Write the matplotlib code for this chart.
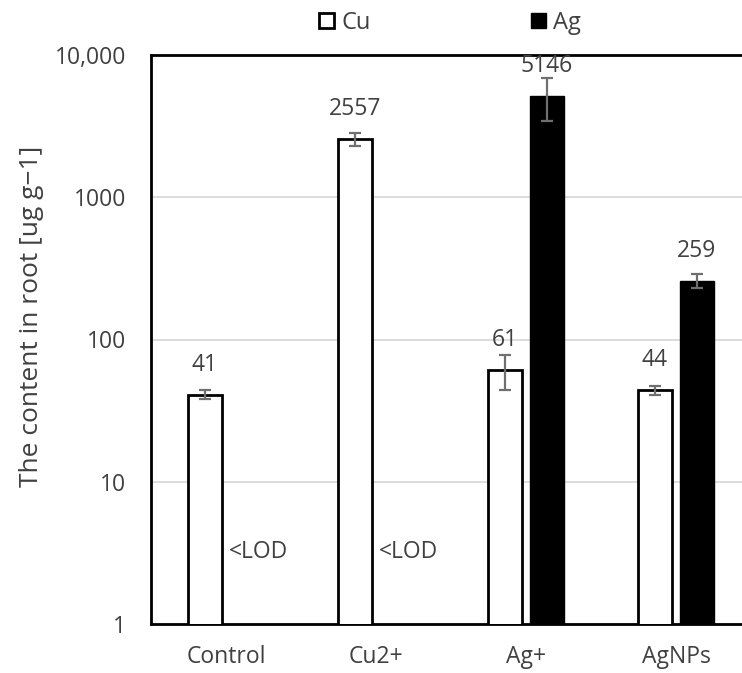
import matplotlib
matplotlib.use("Agg")
import matplotlib.pyplot as plt
import numpy as np
from matplotlib.patches import Patch

plt.rcParams['font.family'] = ['Open Sans', 'DejaVu Sans']

categories = ["Control", "Cu2+", "Ag+", "AgNPs"]
cu_values = [41, 2557, 61, 44]
cu_errors = [3, 280, 17, 3]
ag_values = [np.nan, np.nan, 5146, 259]
ag_errors = [0, 0, 1700, 28]
ag_labels = ["<LOD", "<LOD", "5146", "259"]
y_ticks = [1, 10, 100, 1000, 10000]
y_tick_labels = ["1", "10", "100", "1000", "10,000"]

W, H = 742, 673
fig = plt.figure(figsize=(W / 100, H / 100), dpi=100)
# axes extends past the right edge of the canvas
left, right, top, bottom = 151, 751, 55, 624
ax = fig.add_axes([left / W, 1 - bottom / H, (right - left) / W, (bottom - top) / H])

x = np.arange(len(categories))
bw = 0.233
off = 0.14
text_col = "#404040"
err_col = "#6f6f6f"
label_off = 21.5  # points above the bar top (text centre)
fs = 16.5

ax.set_yscale("log")
ax.set_ylim(1, 10000)
ax.set_xlim(-0.5, 3.5)

ax.bar(x - off, cu_values, width=bw, color="white", edgecolor="black", linewidth=2.0, zorder=3)
ax.errorbar(x - off, cu_values, yerr=cu_errors, fmt="none", ecolor=err_col, elinewidth=1.6,
            capsize=4.5, capthick=1.6, zorder=4)
ag_plot = [v if not np.isnan(v) else 0 for v in ag_values]
ax.bar(x + off, ag_plot, width=bw, color="black", edgecolor="black", linewidth=1.0, zorder=3)
ax.errorbar(x[2:] + off, ag_values[2:], yerr=ag_errors[2:], fmt="none", ecolor=err_col,
            elinewidth=1.6, capsize=4.5, capthick=1.6, zorder=4)

# value labels
for i, v in enumerate(cu_values):
    ax.annotate(str(v), (x[i] - off, v), xytext=(0, label_off), textcoords="offset points",
                ha="center", va="center", fontsize=fs, color=text_col, zorder=5)
for i, lab in enumerate(ag_labels):
    if lab == "<LOD":
        ax.text(x[i] + 0.02, 3.2, lab, ha="left", va="center", fontsize=fs, color=text_col, zorder=5)
    else:
        ax.annotate(lab, (x[i] + off, ag_values[i]), xytext=(0, label_off), textcoords="offset points",
                    ha="center", va="center", fontsize=fs, color=text_col, zorder=5)

ax.set_yticks(y_ticks)
ax.set_yticklabels(y_tick_labels)
ax.yaxis.set_minor_locator(matplotlib.ticker.NullLocator())
ax.set_xticks(x)
ax.set_xticklabels(categories)
ax.tick_params(axis="both", length=0, labelsize=fs, labelcolor=text_col)
ax.tick_params(axis="y", pad=18)
ax.tick_params(axis="x", pad=15)

ax.grid(axis="y", color="#d9d9d9", linewidth=1.3, zorder=0)
for s in ["left", "bottom", "top"]:
    ax.spines[s].set_color("black")
    ax.spines[s].set_linewidth(2.0)
ax.spines["right"].set_visible(False)

ax.set_ylabel("The content in root [ug g\u22121]", fontsize=19, color=text_col)
ax.yaxis.set_label_coords(-0.178, 0.54)

handles = [Patch(facecolor="white", edgecolor="black", linewidth=2.0, label="Cu"),
           Patch(facecolor="black", edgecolor="black", label="Ag")]
fig.legend(handles=handles, loc="center", bbox_to_anchor=(450 / W, 1 - 23 / H), ncol=2,
           frameon=False, fontsize=17, handlelength=0.62, handleheight=0.62,
           handletextpad=0.3, columnspacing=6.8, labelcolor=text_col)

fig.savefig("out.png", dpi=100)
